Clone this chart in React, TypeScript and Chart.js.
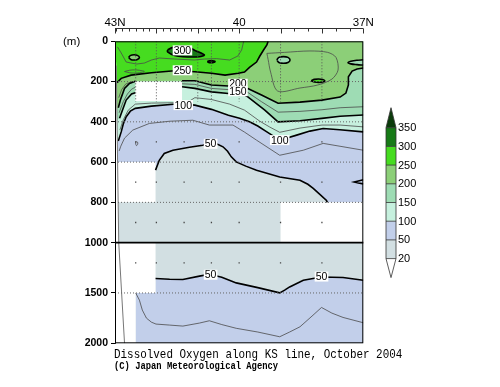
import React, { useEffect, useRef } from "react";
import { Chart, registerables } from "chart.js";

Chart.register(...registerables);

type P = [number, number]; // [latitude N, depth m]

// ---------- axes ----------
const depthTicks = [0, 200, 400, 600, 800, 1000, 1500, 2000];
const depthTickLabels = ["0", "200", "400", "600", "800", "1000", "1500", "2000"];
const topMajorLats = [43, 42, 41, 40, 39, 38, 37];
const topLabelLats = [43, 40, 37];
const topLabelTexts = ["43N", "40", "37N"];
const topMinorLats = [42.98, 42.83, 42.67, 42.5, 42.33, 42.17, 41.83, 41.67, 41.5, 41.33, 41.17, 40.83, 40.67, 40.5, 40.33, 40.17, 39.67, 39.33, 38.67, 38.33, 37.67, 37.33];

// ---------- colour scale ----------
const levels = [20, 50, 100, 150, 200, 250, 300, 350];
const levelColors = ["#d2dfe2", "#c2cfea", "#c6f0de", "#9edcb4", "#8ccf78", "#46dc20", "#177a17"];
const overColor = "#0b3b0b";

// ---------- text ----------
const titleText = "Dissolved Oxygen along KS line, October 2004";
const creditText = "(C) Japan Meteorological Agency";
const unitText = "(m)";

// ---------- contour lines ----------
const line250: P[] = [[42.95, 205], [42.85, 184], [42.61, 168], [42.12, 156], [41.56, 146], [41.07, 151], [40.67, 159], [40.34, 168], [40.02, 159], [39.87, 153], [39.75, 130], [39.58, 103], [39.5, 73], [39.41, 43], [39.33, 18], [39.3, 0]];
const line200L: P[] = [[42.92, 330], [42.87, 292], [42.77, 234], [42.65, 209], [42.51, 198]];
const line200R: P[] = [[41.38, 196], [41.07, 196], [40.67, 217], [40.26, 222], [39.99, 218], [39.79, 234], [39.46, 267], [39.06, 308], [38.53, 302], [38.0, 292], [37.56, 277], [37.42, 257], [37.36, 217], [37.36, 176], [37.27, 148], [37.15, 138], [37.0, 133]];
const line150L: P[] = [[42.89, 382], [42.82, 342], [42.73, 292], [42.6, 262], [42.51, 256]];
const line150R: P[] = [[41.38, 226], [41.07, 234], [40.67, 251], [40.26, 259], [40.0, 252], [39.79, 276], [39.38, 342], [39.06, 400], [38.53, 395], [38.0, 383], [37.56, 372], [37.0, 366]];
const line100: P[] = [[42.92, 495], [42.85, 450], [42.8, 411], [42.73, 375], [42.63, 347], [42.51, 333], [42.12, 322], [41.59, 313], [41.35, 313], [41.07, 317], [40.67, 338], [40.26, 367], [39.99, 382], [39.75, 400], [39.55, 421], [39.34, 449], [39.02, 491], [38.61, 466], [38.29, 446], [37.97, 433], [37.57, 439], [37.0, 450]];
const line50U: P[] = [[42.02, 640], [41.93, 591], [41.81, 557], [41.6, 541], [41.2, 526], [40.88, 516], [40.7, 507], [40.52, 511], [40.39, 524], [40.28, 546], [40.19, 574], [40.07, 599], [39.84, 620], [39.58, 640], [39.02, 674], [38.53, 690], [38.34, 710], [38.21, 731], [38.05, 760], [37.89, 790], [37.87, 800]];
const line50L: P[] = [[42.02, 1356], [41.68, 1363], [41.36, 1366], [40.96, 1333], [40.72, 1314], [40.42, 1343], [40.07, 1400], [39.55, 1447], [39.02, 1499], [38.9, 1472], [38.78, 1440], [38.45, 1373], [38.01, 1341], [37.49, 1347], [37.0, 1373]];
const wedge50R: P[] = [[37.0, 688], [37.12, 694], [37.22, 699], [37.12, 704], [37.0, 708]];

// intermediate (thin) contours
const line275: P[] = [[42.94, 28], [42.85, 58], [42.73, 103], [42.48, 113], [42.29, 108], [42.12, 93], [41.93, 83], [41.56, 88], [41.08, 93], [40.84, 88], [40.55, 86], [40.23, 93], [40.03, 73], [39.94, 43], [39.89, 0]];
const loop275: P[] = [[42.77, 150], [42.65, 144], [42.53, 142], [42.41, 144], [42.29, 150], [42.41, 156], [42.53, 158], [42.65, 156], [42.77, 150]];
const loop225: P[] = [[39.33, 60], [38.9, 55], [38.29, 48], [37.86, 55], [37.66, 80], [37.61, 143], [37.76, 188], [38.1, 217], [38.53, 232], [39.07, 247], [39.24, 153], [39.3, 90], [39.33, 60]];
const line225L: P[] = [[42.91, 280], [42.84, 240], [42.74, 212], [42.62, 203], [42.51, 200]];
const line175L: P[] = [[42.9, 355], [42.8, 300], [42.7, 262], [42.6, 238], [42.51, 228]];
const line175R: P[] = [[41.38, 211], [41.07, 214], [40.67, 234], [40.26, 240], [39.99, 235], [39.79, 254], [39.46, 300], [39.06, 352], [38.53, 348], [38.0, 340], [37.56, 330], [37.0, 325]];
const line125: P[] = [[42.88, 440], [42.8, 390], [42.68, 342], [42.51, 312], [42.12, 307], [41.56, 305], [41.2, 297], [41.07, 280], [40.67, 289], [40.23, 312], [39.87, 342], [39.5, 397], [39.26, 426], [39.02, 452], [38.53, 431], [38.0, 416], [37.56, 416], [37.0, 425]];
const line75: P[] = [[42.9, 545], [42.86, 521], [42.77, 481], [42.57, 441], [42.17, 408], [41.68, 397], [41.12, 392], [40.72, 416], [40.15, 416], [39.87, 451], [39.58, 491], [39.02, 566], [38.45, 541], [37.97, 507], [37.0, 541]];
const loop75: P[] = [[42.5, 500], [42.46, 500], [42.45, 510], [42.48, 518], [42.5, 510], [42.5, 500]];
const lineDeep: P[] = [[42.5, 1500], [42.41, 1571], [42.34, 1670], [42.24, 1750], [42.12, 1790], [42.01, 1809], [41.68, 1819], [41.36, 1829], [40.96, 1799], [40.72, 1776], [40.42, 1814], [40.07, 1851], [39.55, 1888], [39.02, 1935], [38.78, 1888], [38.53, 1836], [38.24, 1730], [38.01, 1644], [37.76, 1700], [37.49, 1743], [37.0, 1796]];

// closed loops
const loopMintR: P[] = [[39.09, 93], [39.04, 80], [38.93, 76], [38.82, 80], [38.77, 93], [38.82, 105], [38.93, 109], [39.04, 105], [39.09, 93]];
const edgeMintR: P[] = [[37.0, 92], [37.15, 94], [37.3, 99], [37.37, 105], [37.3, 112], [37.15, 116], [37.0, 118]];
const lens250R: P[] = [[38.26, 196], [38.18, 189], [38.08, 187], [37.98, 190], [37.93, 196], [37.98, 202], [38.08, 204], [38.18, 202], [38.26, 196]];
const loop250L: P[] = [[42.67, 80], [42.62, 70], [42.54, 67], [42.46, 70], [42.41, 80], [42.46, 90], [42.54, 93], [42.62, 90], [42.67, 80]];
const blob300: P[] = [[41.73, 43], [41.6, 30], [41.28, 26], [41.04, 48], [40.84, 68], [40.96, 77], [41.36, 77], [41.56, 71], [41.73, 53], [41.73, 43]];
const lens300: P[] = [[40.77, 101], [40.72, 97], [40.64, 97], [40.58, 101], [40.64, 106], [40.72, 106], [40.77, 101]];

// missing data / land
const domainAll: P[] = [[43, 0], [37, 0], [37, 2000], [43, 2000]];
const maskLeft: P[] = [[43.2, 0], [43.0, 0], [42.97, 120], [42.91, 1000], [42.77, 2000], [43.2, 2000]];
const bathyLine: P[] = [[42.97, 120], [42.91, 1000], [42.77, 2000]];
const box1: P[] = [[42.51, 200], [41.38, 200], [41.38, 297], [42.51, 297]];
const box2: P[] = [[43, 600], [42.02, 600], [42.02, 800], [43, 800]];
const box3: P[] = [[39.0, 800], [37.0, 800], [37.0, 1000], [39.0, 1000]];
const box4: P[] = [[43, 1000], [42.02, 1000], [42.02, 1500], [42.5, 1500], [42.5, 2000], [43, 2000]];

// contour labels
const contourLabelLats = [41.37, 41.37, 40.03, 40.03, 41.35, 39.02, 40.69, 40.69, 38.01];
const contourLabelDepths = [45, 144, 211, 248, 317, 491, 509, 1319, 1337];
const contourLabelTexts = ["300", "250", "200", "150", "100", "100", "50", "50", "50"];

// observation marks
const gridDepths = [200, 400, 600, 800, 1500];
const profileLats = [42.5, 42.0, 41.0, 40.67, 40.0, 39.0, 38.0];
const profileDepth = 300;
const dotLats = [42.5, 42.0, 41.33, 40.67, 40.0, 39.0, 38.0];
const dotDepths = [500, 700, 900, 1200];

// ---------- helpers ----------
const ty = (d: number) => (d <= 1000 ? d : 1000 + (d - 1000) / 2);
const pts = (a: P[]) => a.map(([x, d]) => ({ x, y: ty(d) }));

const fillDs = (a: P[], color: string, tension = 0) => ({
  data: pts(a), showLine: true, fill: "shape", backgroundColor: color,
  borderColor: "rgba(0,0,0,0)", borderWidth: 0, pointRadius: 0, tension,
});
const lineDs = (a: P[], color: string, width: number, tension = 0, dash: number[] = []) => ({
  data: pts(a), showLine: true, fill: false, borderColor: color, borderWidth: width,
  borderDash: dash, pointRadius: 0, tension, backgroundColor: color,
});

const THICK = 1.6;
const THIN = 0.8;
const THIN_C = "#4a4a4a";

function buildDatasets() {
  const poly50U: P[] = [[43, 0], [37, 0], [37, 800], ...[...line50U].reverse(), [42.02, 600], [43, 600]];
  const poly50L: P[] = [...line50L, [37, 2000], [42.5, 2000], [42.5, 1500], [42.02, 1500]];
  const poly100: P[] = [[43, 0], [43, 500], ...line100, [37, 0]];
  const poly150: P[] = [[43, 0], [43, 400], ...line150L, ...line150R, [37, 0]];
  const poly200: P[] = [[43, 0], [43, 340], ...line200L, ...line200R, [37, 0]];
  const poly250: P[] = [[43, 0], [43, 205], ...line250];

  const list: any[] = [
    fillDs(domainAll, levelColors[0]),
    fillDs(poly50U, levelColors[1]),
    fillDs(poly50L, levelColors[1]),
    fillDs(poly100, levelColors[2]),
    fillDs(poly150, levelColors[3]),
    fillDs(poly200, levelColors[4]),
    fillDs(loopMintR, levelColors[3], 0.4),
    fillDs(edgeMintR, levelColors[3], 0.4),
    fillDs(poly250, levelColors[5]),
    fillDs(loop250L, levelColors[4], 0.4),
    fillDs(lens250R, levelColors[5], 0.4),
    fillDs(blob300, levelColors[6], 0.3),
    fillDs(lens300, levelColors[6], 0.4),
    fillDs(maskLeft, "#ffffff"),
    fillDs(box1, "#ffffff"),
    fillDs(box2, "#ffffff"),
    fillDs(box3, "#ffffff"),
    fillDs(box4, "#ffffff"),
    // thin contours
    lineDs(line275, THIN_C, THIN),
    lineDs(loop275, THIN_C, THIN, 0.4),
    lineDs(loop225, THIN_C, THIN, 0.3),
    lineDs(line225L, THIN_C, THIN),
    lineDs(line175L, THIN_C, THIN),
    lineDs(line175R, THIN_C, THIN),
    lineDs(line125, THIN_C, THIN),
    lineDs(line75, THIN_C, THIN),
    lineDs(loop75, THIN_C, THIN, 0.4),
    lineDs(lineDeep, THIN_C, THIN),
    // thick contours
    lineDs(line250, "#000", THICK),
    lineDs(loop250L, "#000", THICK, 0.4),
    lineDs(lens250R, "#000", THICK, 0.4),
    lineDs(blob300, "#000", THICK, 0.3),
    lineDs(lens300, "#000", THICK, 0.4),
    lineDs(loopMintR, "#000", THICK, 0.4),
    lineDs(edgeMintR, "#000", THICK, 0.4),
    lineDs(line200L, "#000", THICK),
    lineDs(line200R, "#000", THICK),
    lineDs(line150L, "#000", THICK),
    lineDs(line150R, "#000", THICK),
    lineDs(line100, "#000", THICK),
    lineDs(line50U, "#000", THICK),
    lineDs(line50L, "#000", THICK),
    lineDs(wedge50R, "#000", THICK),
    lineDs(bathyLine, "#777", 1),
  ];
  gridDepths.forEach((d) => list.push(lineDs([[43, d], [37, d]], "#666", 1, 0, [1, 2])));
  profileLats.forEach((lat) => list.push(lineDs([[lat, 0], [lat, profileDepth]], "#555", 1, 0, [1, 2])));
  const dots: P[] = dotLats.flatMap((lat) => dotDepths.map((d) => [lat, d] as P));
  list.push({ data: pts(dots), showLine: false, pointRadius: 0.9, pointStyle: "rect", backgroundColor: "#444", borderWidth: 0 });
  const n = list.length;
  list.forEach((ds, i) => { ds.order = n - i; });
  return list;
}

const decorPlugin = {
  id: "decor",
  afterDraw(chart: any) {
    const { ctx, chartArea: a, scales } = chart;
    const px = (lat: number) => scales.x.getPixelForValue(lat);
    const py = (d: number) => scales.y.getPixelForValue(ty(d));
    ctx.save();

    // contour labels
    ctx.font = "10.5px 'Liberation Sans', Arial, sans-serif";
    ctx.textAlign = "center";
    ctx.textBaseline = "middle";
    contourLabelLats.forEach((lat, i) => {
      const x = px(lat), y = py(contourLabelDepths[i]);
      const t = contourLabelTexts[i];
      const w = ctx.measureText(t).width + 2;
      ctx.fillStyle = "#fff";
      ctx.fillRect(x - w / 2, y - 5, w, 10);
      ctx.fillStyle = "#000";
      ctx.fillText(t, x, y + 0.5);
    });

    // frame + 1000 m separator
    ctx.strokeStyle = "#000";
    ctx.lineWidth = 1;
    ctx.strokeRect(a.left + 0.5, a.top + 0.5, a.right - a.left - 1, a.bottom - a.top - 1);
    ctx.lineWidth = 1.7;
    ctx.beginPath();
    ctx.moveTo(a.left, py(1000));
    ctx.lineTo(a.right, py(1000));
    ctx.stroke();

    // top latitude axis
    const axY = 28.5;
    ctx.lineWidth = 1;
    ctx.strokeStyle = "#333";
    ctx.beginPath();
    ctx.moveTo(px(43), axY);
    ctx.lineTo(px(37), axY);
    topMajorLats.forEach((lat) => { ctx.moveTo(Math.round(px(lat)) + 0.5, axY); ctx.lineTo(Math.round(px(lat)) + 0.5, axY + 5); });
    topMinorLats.forEach((lat) => { ctx.moveTo(Math.round(px(lat)) + 0.5, axY); ctx.lineTo(Math.round(px(lat)) + 0.5, axY + 3); });
    ctx.stroke();
    ctx.fillStyle = "#000";
    ctx.font = "11.5px 'Liberation Sans', Arial, sans-serif";
    ctx.textAlign = "center";
    ctx.textBaseline = "alphabetic";
    topLabelLats.forEach((lat, i) => ctx.fillText(topLabelTexts[i], px(lat), 26));

    // unit
    ctx.textAlign = "left";
    ctx.textBaseline = "middle";
    ctx.font = "11.5px 'Liberation Sans', Arial, sans-serif";
    ctx.fillText(unitText, 63, 42);

    // colour bar
    const cbX = 386, cbW = 10, cbTop = 127.7, cbStep = 18.7;
    const ly = (i: number) => cbTop + (levels.length - 1 - i) * cbStep;
    for (let i = 0; i < levelColors.length; i++) {
      ctx.fillStyle = levelColors[i];
      ctx.fillRect(cbX, ly(i + 1), cbW, cbStep);
    }
    ctx.fillStyle = overColor;
    ctx.beginPath();
    ctx.moveTo(cbX, cbTop);
    ctx.lineTo(cbX + cbW / 2, cbTop - 20);
    ctx.lineTo(cbX + cbW, cbTop);
    ctx.closePath();
    ctx.fill();
    ctx.fillStyle = "#fff";
    ctx.beginPath();
    ctx.moveTo(cbX, ly(0));
    ctx.lineTo(cbX + cbW / 2, ly(0) + 19);
    ctx.lineTo(cbX + cbW, ly(0));
    ctx.closePath();
    ctx.fill();
    ctx.strokeStyle = "#333";
    ctx.lineWidth = 0.8;
    ctx.beginPath();
    ctx.moveTo(cbX, cbTop);
    ctx.lineTo(cbX + cbW / 2, cbTop - 20);
    ctx.lineTo(cbX + cbW, cbTop);
    ctx.lineTo(cbX + cbW, ly(0));
    ctx.lineTo(cbX + cbW / 2, ly(0) + 19);
    ctx.lineTo(cbX, ly(0));
    ctx.closePath();
    for (let i = 0; i < levels.length; i++) {
      ctx.moveTo(cbX, ly(i));
      ctx.lineTo(cbX + cbW, ly(i));
    }
    ctx.stroke();
    ctx.fillStyle = "#000";
    ctx.font = "11px 'Liberation Sans', Arial, sans-serif";
    ctx.textAlign = "left";
    ctx.textBaseline = "middle";
    levels.forEach((v, i) => ctx.fillText(String(v), cbX + cbW + 2, ly(i) + 0.5));

    // titles
    ctx.textBaseline = "alphabetic";
    ctx.save();
    ctx.translate(114, 358);
    ctx.scale(0.84, 1);
    ctx.font = "13px 'Liberation Mono', 'DejaVu Sans Mono', monospace";
    ctx.fillText(titleText, 0, 0);
    ctx.restore();
    ctx.save();
    ctx.translate(114, 368.5);
    ctx.scale(0.84, 1);
    ctx.font = "bold 10.5px 'Liberation Mono', 'DejaVu Sans Mono', monospace";
    ctx.fillText(creditText, 0, 0);
    ctx.restore();

    ctx.restore();
  },
};

export default function App() {
  const ref = useRef<HTMLCanvasElement | null>(null);
  useEffect(() => {
    if (!ref.current) return;
    Chart.defaults.font.family = "'Liberation Sans', Arial, sans-serif";
    const chart = new Chart(ref.current, {
      type: "scatter",
      data: { datasets: buildDatasets() },
      options: {
        animation: false,
        responsive: false,
        events: [],
        layout: { padding: { left: 0, top: 41.3, right: 136.7, bottom: 43.7 } },
        plugins: { legend: { display: false }, tooltip: { enabled: false }, title: { display: false } },
        scales: {
          x: { type: "linear", min: 37, max: 43, reverse: true, display: false },
          y: {
            type: "linear", min: 0, max: 1500, reverse: true,
            afterBuildTicks: (s: any) => { s.ticks = depthTicks.map((d) => ({ value: ty(d) })); },
            afterFit: (s: any) => { s.width = 115; },
            grid: { drawOnChartArea: false, drawTicks: true, tickLength: 4, color: "#000" },
            border: { display: true, color: "#000" },
            ticks: {
              autoSkip: false, padding: 3, color: "#000",
              font: { size: 10.5, weight: "bold" },
              callback: (_v: any, i: number) => depthTickLabels[i],
            },
          },
        },
      } as any,
      plugins: [decorPlugin],
    });
    return () => chart.destroy();
  }, []);
  return (
    <div style={{ position: "absolute", left: 0, top: 0, width: 500, height: 387, background: "#fff" }}>
      <canvas ref={ref} width={500} height={387} style={{ display: "block" }} />
    </div>
  );
}
